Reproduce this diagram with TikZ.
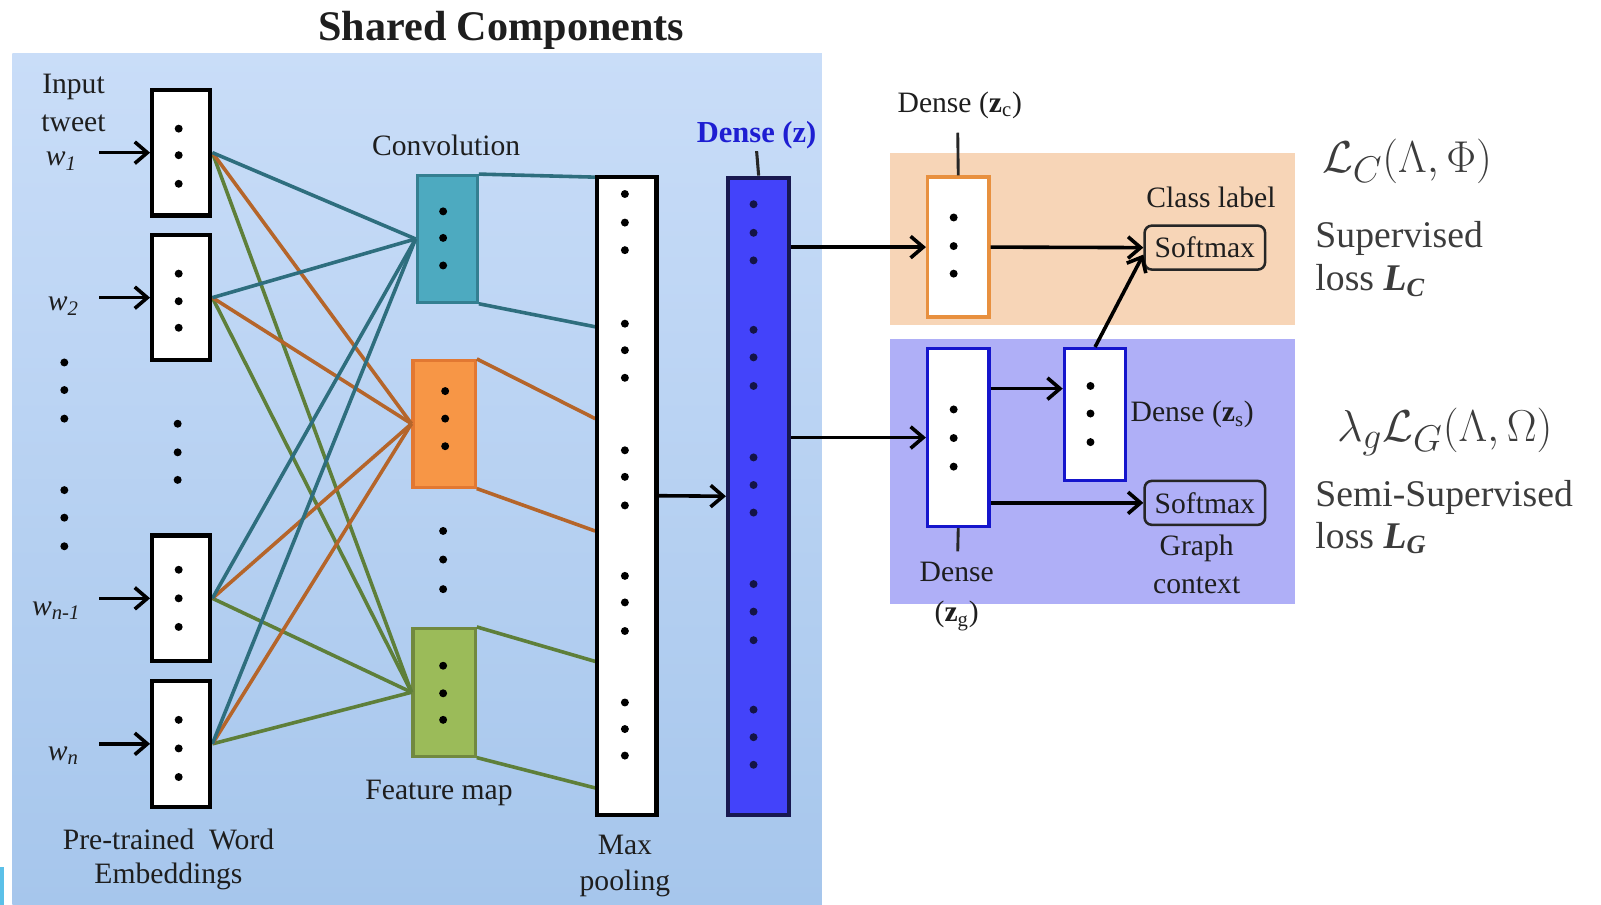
\documentclass[tikz,border=0pt]{standalone}
\usepackage{fontspec}
\setmainfont{Liberation Serif}
\usetikzlibrary{arrows.meta,calc}
\definecolor{bgtop}{RGB}{201,221,248}
\definecolor{bgbot}{RGB}{166,198,236}
\definecolor{tealfill}{RGB}{77,170,192}
\definecolor{tealdraw}{RGB}{52,127,145}
\definecolor{tealline}{RGB}{46,110,126}
\definecolor{orfill}{RGB}{247,150,70}
\definecolor{ordraw}{RGB}{226,120,50}
\definecolor{orline}{RGB}{181,101,42}
\definecolor{grfill}{RGB}{155,187,89}
\definecolor{grdraw}{RGB}{113,137,63}
\definecolor{grline}{RGB}{94,127,58}
\definecolor{densefill}{RGB}{67,67,250}
\definecolor{densedraw}{RGB}{24,24,80}
\definecolor{densedot}{RGB}{20,20,70}
\definecolor{denselab}{RGB}{30,30,210}
\definecolor{peach}{RGB}{247,213,183}
\definecolor{lav}{RGB}{175,175,247}
\definecolor{zcdraw}{RGB}{232,144,63}
\definecolor{zgdraw}{RGB}{21,21,204}
\definecolor{txt}{RGB}{30,30,30}
\definecolor{rtxt}{RGB}{60,60,60}
\definecolor{cyanbit}{RGB}{91,192,232}
\begin{document}
\begin{tikzpicture}[x=0.02cm,y=-0.02cm,
  wh/.style 2 args={minimum width={#1*0.02cm},minimum height={#2*0.02cm}},
  lab/.style={font=\fontsize{16.5}{19}\selectfont,text=txt,inner sep=0},
  rlab/.style={font=\fontsize{21}{24}\selectfont,text=rtxt,inner sep=0},
  mlab/.style={font=\fontsize{27.5}{32}\selectfont,text=rtxt,inner sep=0},
  wbox/.style={draw=black,line width=2.3pt,fill=white,inner sep=0},
  fmap/.style={line width=1.7pt,inner sep=0},
  zbox/.style={line width=1.9pt,fill=white,inner sep=0},
  smbox/.style={draw=black!85,line width=1.4pt,rounded corners=4pt,inner sep=0,
    font=\fontsize{16.5}{19}\selectfont,text=txt},
  conn/.style={line width=2pt},
  arr/.style={line width=2pt,-{Straight Barb[length=7pt,width=12pt]}},
  dot/.style={fill=black}]
\useasboundingbox (0,0) rectangle (1568,886);
% backgrounds
\shade[top color=bgtop,bottom color=bgbot] (12,52) rectangle (805,886);
\fill[cyanbit] (0,849) rectangle (4,886);
\fill[peach] (872,150) rectangle (1268,318);
\fill[lav] (872,332) rectangle (1268,592);
% title
\node[font=\fontsize{23.5}{28}\selectfont\bfseries,text=txt,inner sep=0] (title) at (491,30) {Shared Components};
% embedding boxes
\node[wbox,wh={57}{123}] (e1) at (177.5,149.5) {};
\node[wbox,wh={57}{123}] (e2) at (177.5,291.5) {};
\node[wbox,wh={57}{123}] (e3) at (177.5,586) {};
\node[wbox,wh={57}{123}] (e4) at (177.5,728.5) {};
% feature maps
\node[fmap,fill=tealfill,draw=tealdraw,wh={59}{124}] (ft) at (438,234) {};
\node[fmap,fill=orfill,draw=ordraw,wh={61}{124}] (fo) at (435,415) {};
\node[fmap,fill=grfill,draw=grdraw,wh={61}{125}] (fg) at (435,678) {};
% pooling and dense
\node[wbox,wh={58}{625}] (pool) at (614,485.5) {};
\node[wbox,fill=densefill,draw=densedraw,wh={60}{624}] (dz) at (743,486) {};
% embedding -> feature map connectors
\foreach \e in {e1,e2,e3,e4}{
  \draw[conn,grline] (\e.east) -- (fg.west);
  \draw[conn,orline] (\e.east) -- (fo.west);
  \draw[conn,tealline] (\e.east) -- (ft.west);
}
% feature map -> pooling
\draw[conn,tealline] (ft.north east) -- ($(pool.north west)!0.004!(pool.south west)$);
\draw[conn,tealline] (ft.south east) -- ($(pool.north west)!0.237!(pool.south west)$);
\draw[conn,orline] (fo.north east) -- ($(pool.north west)!0.38!(pool.south west)$);
\draw[conn,orline] (fo.south east) -- ($(pool.north west)!0.555!(pool.south west)$);
\draw[conn,grline] (fg.north east) -- ($(pool.north west)!0.758!(pool.south west)$);
\draw[conn,grline] (fg.south east) -- ($(pool.north west)!0.955!(pool.south west)$);
% redraw boxes on top of lines
\node[wbox,wh={57}{123}] at (e1) {};
\node[wbox,wh={57}{123}] at (e2) {};
\node[wbox,wh={57}{123}] at (e3) {};
\node[wbox,wh={57}{123}] at (e4) {};
\node[wbox,wh={58}{625}] at (pool) {};
% dots
\foreach \x/\y in {175/126,175/152,175/180,175/268,175/295,175/321,175/558,175/586,175/614,175/705,175/733,175/761,
  174/415,174/443,174/470, 63/355,63/382,63/410,63/480,63/507,63/535,
  434/207,434/233,434/260, 436/383,436/410,436/437, 434/652,434/679,434/705, 434/520,434/548,434/577,
  612/190,612/218,612/245,612/317,612/343,612/370,612/441,612/467,612/495,612/564,612/590,612/618,612/688,612/714,612/740}
  \fill[black] (\x,\y) circle[radius=0.078cm];
\foreach \y in {200,228,255,323,350,378,448,475,502,572,599,627,695,722,749}
  \fill[densedot] (738,\y) circle[radius=0.078cm];
% input arrows and labels
\node[lab] (inp) at (72,85) {Input};
\node[lab] (twt) at (72,121) {tweet};
\node[lab] (w1) at (60,158) {\textit{w}\textsubscript{\textit{1}}};
\node[lab] (w2) at (62,300) {\textit{w}\textsubscript{\textit{2}}};
\node[lab] (w3) at (55,598) {\textit{w}\textsubscript{\textit{n-1}}};
\node[lab] (w4) at (62,740) {\textit{w}\textsubscript{\textit{n}}};
\draw[arr] ([xshift=-1cm]e1.west) -- (e1.west);
\draw[arr] ([xshift=-1cm]e2.west) -- (e2.west);
\draw[arr] ([xshift=-1cm]e3.west) -- (e3.west);
\draw[arr] ([xshift=-1cm]e4.west) -- (e4.west);
\node[lab] (pre) at (165,822) {Pre-trained\ \ Word};
\node[lab] (emb) at (165,858) {Embeddings};
\node[lab] (conv) at (437,142) {Convolution};
\node[lab] (fmapl) at (430,777) {Feature map};
\node[lab] (maxl) at (612,828) {Max};
\node[lab] (pooll) at (612,865) {pooling};
% pool -> dense
\draw[arr] (pool.east) -- (dz.west);
\node[lab,font=\fontsize{17}{20}\selectfont\bfseries,text=denselab] (dzl) at (741,132) {Dense (z)};
\coordinate (dztop) at (741,148);
\draw[line width=1.7pt,black!85] (dz.north) -- (dztop);
% right boxes
\node[zbox,draw=zcdraw,wh={60}{137}] (zc) at (938.5,242) {};
\node[zbox,draw=zgdraw,wh={60}{174}] (zg) at (938.5,428.5) {};
\node[zbox,draw=zgdraw,wh={60}{129}] (zs) at (1072.5,406) {};
\foreach \x/\y in {934/213,934/241,934/268, 934/401,934/429,934/457, 1068/378,1068/405,1068/433}
  \fill[black] (\x,\y) circle[radius=0.078cm];
\node[smbox,wh={118}{43}] (sm1) at (1180,242.5) {Softmax};
\node[smbox,wh={118}{43}] (sm2) at (1180,492.5) {Softmax};
\coordinate (zctop) at (938,130);
\coordinate (zgbot) at (938,540);
\draw[line width=1.6pt,black!85] (zc.north) -- (zctop);
\draw[line width=1.6pt,black!85] (zg.south) -- (zgbot);
\draw[arr] (dz.east |- zc.west) -- (zc.west);
\draw[arr] (dz.east |- zg.west) -- (zg.west);
\draw[arr] (zc.east) -- (sm1.west);
\draw[arr] ($(zg.north east)!0.23!(zg.south east)$) coordinate (t1) -- (t1 -| zs.west);
\draw[arr] (zg.east |- sm2.west) -- (sm2.west);
\draw[arr] (zs.north) -- ($(sm1.west)!0.3!(sm1.south west)$);
% right labels
\node[lab] (zcl) at (940,103) {Dense (\textbf{z}\textsubscript{c})};
\node[lab] (cls) at (1186,193) {Class label};
\node[lab,anchor=west] (zsl) at (1107,406) {Dense (\textbf{z}\textsubscript{s})};
\node[lab] (zgl1) at (937,560) {Dense};
\node[lab] (zgl2) at (937,603) {(\textbf{z}\textsubscript{g})};
\node[lab] (gr1) at (1172,537) {Graph};
\node[lab] (gr2) at (1172,573) {context};
\node[mlab] (lc) at (1378,158) {$\mathcal{L}_C(\Lambda,\Phi)$};
\node[rlab,anchor=west] (sup) at (1288,234) {Supervised};
\node[rlab,anchor=west] (lossc) at (1288,275) {loss \textbf{\textit{L\textsubscript{C}}}};
\node[mlab] (lg) at (1415,423) {$\lambda_g\mathcal{L}_G(\Lambda,\Omega)$};
\node[rlab,anchor=west] (ssup) at (1288,487) {Semi-Supervised};
\node[rlab,anchor=west] (lossg) at (1288,527) {loss \textbf{\textit{L\textsubscript{G}}}};
\end{tikzpicture}
\end{document}
